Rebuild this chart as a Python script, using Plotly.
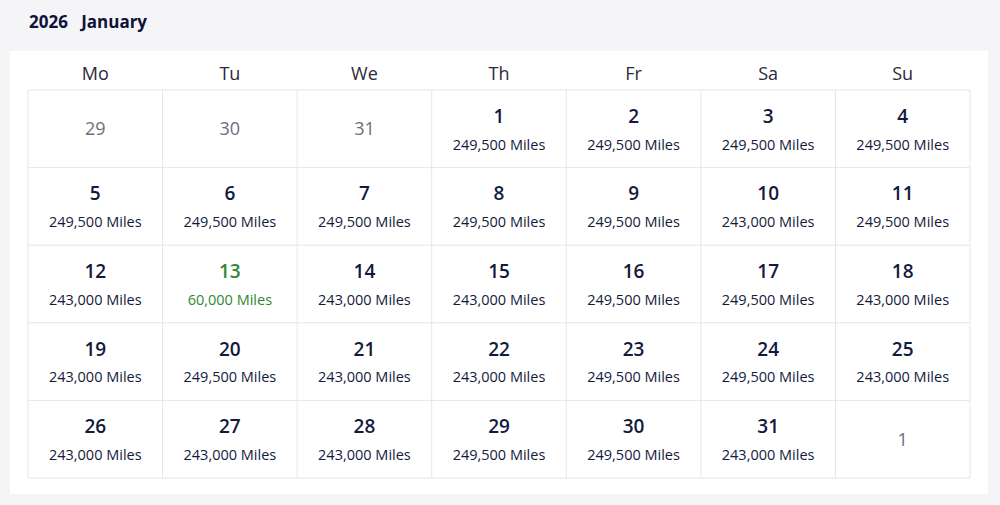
import plotly.graph_objects as go

weekdays = ["Mo", "Tu", "We", "Th", "Fr", "Sa", "Su"]
lead_days = [29, 30, 31]
trail_days = [1]
month_days = list(range(1, 32))
miles = [
    249500, 249500, 249500, 249500,
    249500, 249500, 249500, 249500, 249500, 243000, 249500,
    243000, 60000, 243000, 243000, 249500, 249500, 243000,
    243000, 249500, 243000, 243000, 249500, 249500, 243000,
    243000, 243000, 243000, 249500, 249500, 243000,
]
cheapest = 60000

NAVY = "#141a3c"
GREY = "#6e6e7a"
GREEN = "#2f8a2f"
FONT = "Open Sans"

x0, x1 = 28, 970
y0, y1 = 90, 478
cw = (x1 - x0) / 7
rh = (y1 - y0) / 5

fig = go.Figure()
shapes = [dict(type="rect", x0=10, x1=988, y0=51, y1=494, fillcolor="white", line_width=0, layer="below")]
for i in range(8):
    x = x0 + i * cw
    shapes.append(dict(type="line", x0=x, x1=x, y0=y0, y1=y1, line=dict(color="#e6e6ea", width=1)))
for j in range(6):
    y = y0 + j * rh
    shapes.append(dict(type="line", x0=x0, x1=x1, y0=y, y1=y, line=dict(color="#e6e6ea", width=1)))

def cx(c):
    return x0 + (c + 0.5) * cw

# weekday header
fig.add_trace(go.Scatter(x=[cx(c) for c in range(7)], y=[75] * 7, mode="text", text=weekdays,
                         textfont=dict(family=FONT, size=18, color="#2a2a3a"), hoverinfo="skip"))

# greyed days
gx, gy, gt = [], [], []
for c, d in enumerate(lead_days):
    gx.append(cx(c)); gy.append(y0 + rh / 2 + 2); gt.append(str(d))
for k, d in enumerate(trail_days):
    gx.append(cx(7 - len(trail_days) + k)); gy.append(y0 + 4 * rh + rh / 2 + 2); gt.append(str(d))
fig.add_trace(go.Scatter(x=gx, y=gy, mode="text", text=gt,
                         textfont=dict(family=FONT, size=18, color=GREY), hoverinfo="skip"))

dx, dy, dt, dc, mt, mc, my = [], [], [], [], [], [], []
for i, d in enumerate(month_days):
    pos = i + len(lead_days)
    r, c = divmod(pos, 7)
    top = y0 + r * rh
    col = GREEN if miles[i] == cheapest else NAVY
    dx.append(cx(c)); dy.append(top + 28); dt.append(str(d)); dc.append(col)
    my.append(top + 56); mt.append(f"{miles[i]:,} Miles"); mc.append(col)
fig.add_trace(go.Scatter(x=dx, y=dy, mode="text", text=dt,
                         textfont=dict(family=FONT, size=19, color=dc, weight=600), hoverinfo="skip"))
fig.add_trace(go.Scatter(x=dx, y=my, mode="text", text=mt,
                         textfont=dict(family=FONT, size=14.5, color=mc), hoverinfo="skip"))

fig.add_annotation(x=27, y=21, xanchor="left", yanchor="middle", showarrow=False,
                   text="<b>2026</b>&nbsp;&nbsp;&nbsp;<b>January</b>",
                   font=dict(family=FONT, size=17, color="#0e1238"))

fig.update_layout(width=1000, height=505, margin=dict(l=0, r=0, t=0, b=0),
                  paper_bgcolor="#f5f5f8", plot_bgcolor="#f5f5f8", showlegend=False, shapes=shapes,
                  xaxis=dict(range=[0, 1000], visible=False, fixedrange=True),
                  yaxis=dict(range=[505, 0], visible=False, fixedrange=True))
fig.write_html("out.html", config={"displayModeBar": False})

# drop the default page margin so the figure sits at the window origin
with open("out.html", encoding="utf-8") as f:
    html = f.read()
html = html.replace("<body>", '<body style="margin:0;overflow:hidden">', 1)
with open("out.html", "w", encoding="utf-8") as f:
    f.write(html)
